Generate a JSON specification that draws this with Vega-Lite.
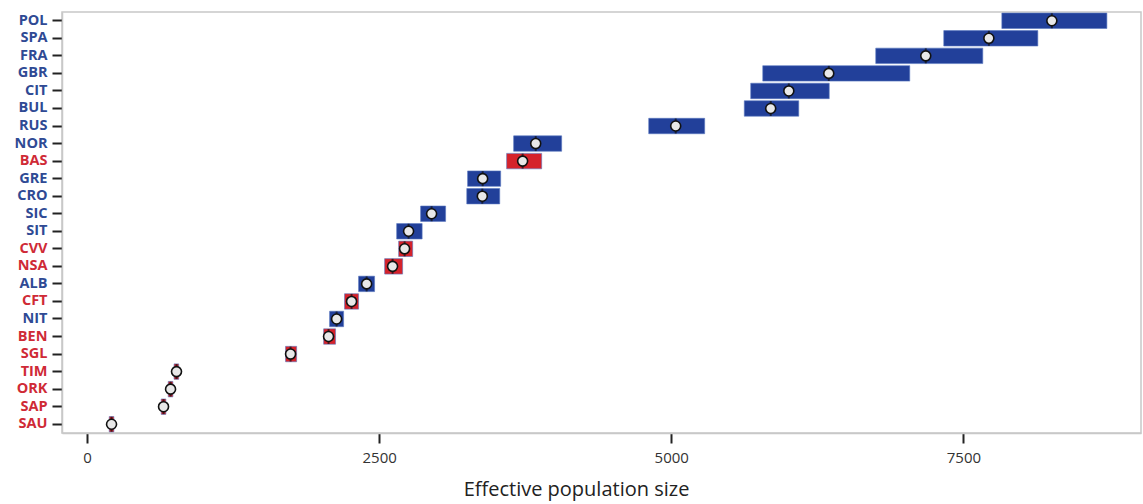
{
  "$schema": "https://vega.github.io/schema/vega-lite/v6.json",
  "width": 1079,
  "height": 421,
  "autosize": {"type": "none"},
  "padding": {"left": 62, "top": 12, "right": 2, "bottom": 71},
  "background": "white",
  "config": {
    "font": "Open Sans",
    "view": {"stroke": "#c8c8c8", "strokeWidth": 1.5}
  },
  "data": {
    "values": [
      {"pop": "POL", "group": "blue", "lo": 7829, "hi": 8728, "ne": 8257},
      {"pop": "SPA", "group": "blue", "lo": 7332, "hi": 8137, "ne": 7718},
      {"pop": "FRA", "group": "blue", "lo": 6750, "hi": 7666, "ne": 7178},
      {"pop": "GBR", "group": "blue", "lo": 5783, "hi": 7041, "ne": 6348},
      {"pop": "CIT", "group": "blue", "lo": 5680, "hi": 6352, "ne": 6006},
      {"pop": "BUL", "group": "blue", "lo": 5625, "hi": 6091, "ne": 5851},
      {"pop": "RUS", "group": "blue", "lo": 4807, "hi": 5286, "ne": 5038},
      {"pop": "NOR", "group": "blue", "lo": 3651, "hi": 4062, "ne": 3840},
      {"pop": "BAS", "group": "red", "lo": 3591, "hi": 3891, "ne": 3728},
      {"pop": "GRE", "group": "blue", "lo": 3257, "hi": 3540, "ne": 3386},
      {"pop": "CRO", "group": "blue", "lo": 3250, "hi": 3532, "ne": 3383},
      {"pop": "SIC", "group": "blue", "lo": 2855, "hi": 3069, "ne": 2949},
      {"pop": "SIT", "group": "blue", "lo": 2650, "hi": 2868, "ne": 2752},
      {"pop": "CVV", "group": "red", "lo": 2667, "hi": 2787, "ne": 2718},
      {"pop": "NSA", "group": "red", "lo": 2547, "hi": 2701, "ne": 2615},
      {"pop": "ALB", "group": "blue", "lo": 2324, "hi": 2461, "ne": 2393},
      {"pop": "CFT", "group": "red", "lo": 2204, "hi": 2324, "ne": 2264},
      {"pop": "NIT", "group": "blue", "lo": 2076, "hi": 2196, "ne": 2136},
      {"pop": "BEN", "group": "red", "lo": 2025, "hi": 2127, "ne": 2067},
      {"pop": "SGL", "group": "red", "lo": 1699, "hi": 1794, "ne": 1742},
      {"pop": "TIM", "group": "red", "lo": 745, "hi": 785, "ne": 766},
      {"pop": "ORK", "group": "red", "lo": 695, "hi": 735, "ne": 715},
      {"pop": "SAP", "group": "red", "lo": 635, "hi": 675, "ne": 655},
      {"pop": "SAU", "group": "red", "lo": 190, "hi": 230, "ne": 210}
    ]
  },
  "encoding": {
    "y": {
      "field": "pop",
      "type": "nominal",
      "sort": null,
      "scale": {"paddingInner": 0.12, "paddingOuter": 0.06},
      "axis": {
        "title": null,
        "labelFontSize": 14.5,
        "labelFontWeight": "bold",
        "labelColor": {
          "condition": {
            "test": "indexof(['BAS','CVV','NSA','CFT','BEN','SGL','TIM','ORK','SAP','SAU'], datum.value) >= 0",
            "value": "#cf2a36"
          },
          "value": "#2f4a94"
        },
        "domainColor": "#c8c8c8",
        "domainWidth": 1.5,
        "tickColor": "#222222",
        "tickWidth": 2,
        "tickSize": 10,
        "labelPadding": 5
      }
    }
  },
  "layer": [
    {
      "mark": {"type": "bar", "strokeWidth": 1, "stroke": "#5a78c0", "strokeOpacity": 0.6},
      "encoding": {
        "x": {
          "field": "lo",
          "type": "quantitative",
          "scale": {"domain": [-214, 9020], "nice": false, "zero": false},
          "axis": {
            "title": "Effective population size",
            "titleFontSize": 20,
            "titleFontWeight": "normal",
            "titleColor": "#222222",
            "titlePadding": 14,
            "titleX": 514,
            "titleAlign": "center",
            "values": [0, 2500, 5000, 7500],
            "format": "d",
            "grid": false,
            "labelFontSize": 15,
            "labelColor": "#333333",
            "labelPadding": 7,
            "domainColor": "#c8c8c8",
            "domainWidth": 1.5,
            "tickColor": "#222222",
            "tickWidth": 2,
            "tickSize": 10
          }
        },
        "x2": {"field": "hi"},
        "color": {
          "field": "group",
          "type": "nominal",
          "scale": {"domain": ["blue", "red"], "range": ["#22409a", "#d5222b"]},
          "legend": null
        }
      }
    },
    {
      "mark": {"type": "tick", "orient": "vertical", "color": "#111111", "thickness": 2, "size": 15},
      "encoding": {
        "x": {"field": "ne", "type": "quantitative"}
      }
    },
    {
      "mark": {"type": "point", "shape": "circle", "filled": true, "fill": "#e8e8e8", "stroke": "#111111", "strokeWidth": 1.6, "size": 100, "opacity": 1},
      "encoding": {
        "x": {"field": "ne", "type": "quantitative"}
      }
    }
  ]
}
